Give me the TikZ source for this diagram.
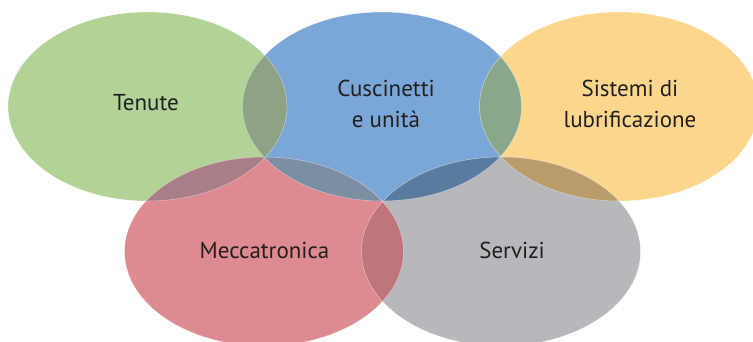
\documentclass[tikz,border=0pt]{standalone}
\usepackage{fontspec}
\setmainfont{PT Sans}
\usepackage{tikz}
\definecolor{venngreen}{RGB}{177,211,150}
\definecolor{vennblue}{RGB}{123,167,216}
\definecolor{vennyellow}{RGB}{253,214,142}
\definecolor{vennred}{RGB}{222,138,145}
\definecolor{venngray}{RGB}{183,184,188}
\definecolor{ovTC}{RGB}{143,162,133}
\definecolor{ovCS}{RGB}{136,168,139}
\definecolor{ovTM}{RGB}{169,126,136}
\definecolor{ovCM}{RGB}{124,142,162}
\definecolor{ovCV}{RGB}{90,123,160}
\definecolor{ovSV}{RGB}{184,156,106}
\definecolor{ovMV}{RGB}{191,116,126}
\definecolor{venntxt}{RGB}{35,31,32}
% the five sets
\newcommand{\pTenute}{(147.5,106.5) ellipse (139.5pt and 94.5pt)}
\newcommand{\pCuscinetti}{(382,106.5) ellipse (139.5pt and 94.5pt)}
\newcommand{\pSistemi}{(619,106.5) ellipse (139.5pt and 94.5pt)}
\newcommand{\pMecca}{(264,251.5) ellipse (139.5pt and 94.5pt)}
\newcommand{\pServizi}{(501,251.5) ellipse (139.5pt and 94.5pt)}

\begin{document}
\begin{tikzpicture}[
		x=1pt, y=-1pt,
		venntext/.style={text=venntxt, align=center, inner sep=0pt,
			font=\fontsize{23}{31}\selectfont},
		rim/.style={draw=white, draw opacity=0.45, line width=0.5pt}
	]
		\useasboundingbox (0,0) rectangle (753,341);
		\clip (0,0) rectangle (753,341);
		\fill[venngreen] \pTenute;
		\fill[vennblue] \pCuscinetti;
		\fill[vennyellow] \pSistemi;
		\fill[vennred] \pMecca;
		\fill[venngray] \pServizi;
		% overlaps
		\begin{scope} \clip \pTenute; \fill[ovTC] \pCuscinetti; \end{scope}
		\begin{scope} \clip \pCuscinetti; \fill[ovCS] \pSistemi; \end{scope}
		\begin{scope} \clip \pTenute; \fill[ovTM] \pMecca; \end{scope}
		\begin{scope} \clip \pCuscinetti; \fill[ovCM] \pMecca; \end{scope}
		\begin{scope} \clip \pCuscinetti; \fill[ovCV] \pServizi; \end{scope}
		\begin{scope} \clip \pSistemi; \fill[ovSV] \pServizi; \end{scope}
		\begin{scope} \clip \pMecca; \fill[ovMV] \pServizi; \end{scope}
		\draw[rim] \pTenute \pCuscinetti \pSistemi \pMecca \pServizi;
		% labels
		\node[venntext] (tenute) at (146,103) {Tenute};
		\node[venntext] (cuscinetti) at (386,104) {Cuscinetti\\e unità};
		\node[venntext] (sistemi) at (630,104) {Sistemi di\\lubrificazione};
		\node[venntext] (mecca) at (264.5,250) {Meccatronica};
		\node[venntext] (servizi) at (512,250) {Servizi};
	\end{tikzpicture}
\end{document}
